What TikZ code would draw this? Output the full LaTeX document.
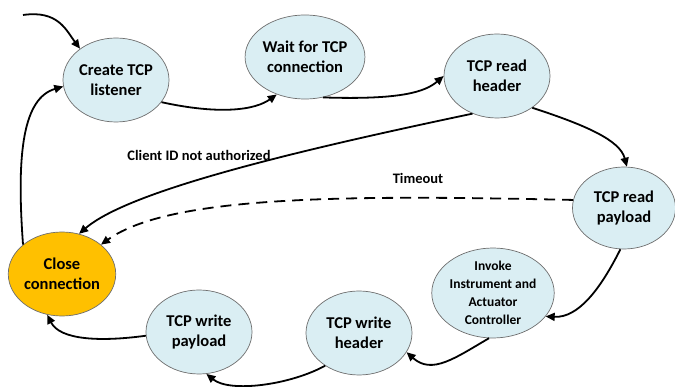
\documentclass[tikz,border=0pt]{standalone}
\usepackage{fontspec}
\setmainfont{Carlito}
\usetikzlibrary{shapes.geometric,arrows.meta}
\definecolor{stbg}{HTML}{DAEEF3}
\definecolor{closebg}{HTML}{FFC000}
\definecolor{stedge}{HTML}{6E6E6E}
\tikzset{
  state/.style={ellipse, draw=stedge, line width=0.7pt, fill=stbg, inner sep=0pt,
    minimum width=106pt, minimum height=84pt, align=center,
    font=\fontsize{16.5}{20.5}\selectfont\bfseries},
  closest/.style={state, fill=closebg},
  smallstate/.style={state, font=\fontsize{13.5}{18}\selectfont\bfseries},
  conn/.style={line width=1.8pt, -{Triangle[length=9pt,width=8pt]}},
  dconn/.style={conn, dash pattern=on 11pt off 7pt},
  lbl/.style={font=\fontsize{14.5}{16}\selectfont\bfseries}
}
\begin{document}
\begin{tikzpicture}[x=1pt,y=-1pt]
\useasboundingbox (0,0) rectangle (675,387);
\node[state] (create) at (116,80) {Create TCP\\listener};
\node[state] (wait) at (305,57) {Wait for TCP\\connection};
\node[state] (rhead) at (497,76) {TCP read\\header};
\node[state, minimum width=103pt, minimum height=82pt] (rpay) at (624,208) {TCP read\\payload};
\node[smallstate] (invoke) at (493,293) {Invoke\\Instrument and\\Actuator\\Controller};
\node[state] (whead) at (359,333) {TCP write\\header};
\node[state] (wpay) at (199,332) {TCP write\\payload};
\node[closest] (close) at (62,274) {Close\\connection};
\coordinate (start) at (23,15);

\draw[conn] (start) .. controls (58,10) and (66,30) .. (create.139);
\draw[conn] (close.143) .. controls (16,150) and (24,98) .. (create.187);
\draw[conn] (create.334) .. controls (220,115) and (255,110) .. (wait.233);
\draw[conn] (wait.294) .. controls (400,100) and (425,92) .. (rhead.180);
\draw[conn] (rhead.318) .. controls (585,125) and (620,140) .. (rpay.86);
\draw[conn] (rhead.237) .. controls (300,150) and (130,190) .. (close.67);
\draw[dconn] (rpay.171) .. controls (350,195) and (170,195) .. (close.37);
\draw[conn] (rpay.265) .. controls (600,290) and (578,318) .. (invoke.336);
\draw[conn] (invoke.265) .. controls (455,358) and (432,375) .. (whead.338);
\draw[conn] (whead.224) .. controls (290,385) and (230,393) .. (wpay.280);
\draw[conn] (wpay.184) .. controls (100,342) and (60,340) .. (close.250);

\node[lbl] (lclient) at (199,155) {Client ID not authorized};
\node[lbl] (ltime) at (418,178) {Timeout};
\end{tikzpicture}
\end{document}
